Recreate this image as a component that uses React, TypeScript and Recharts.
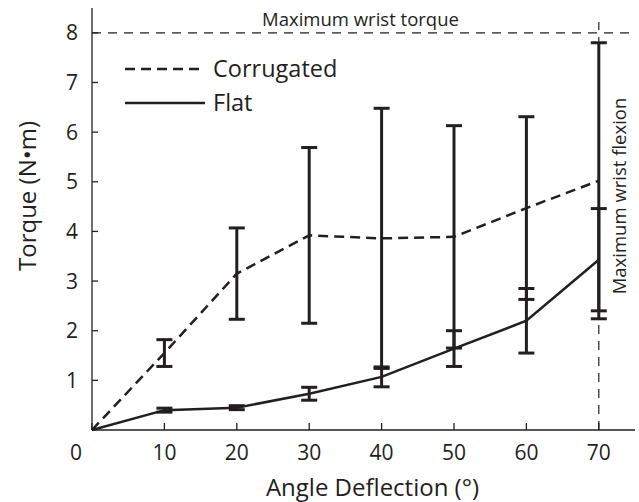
import React from 'react';
import {
  ComposedChart,
  Line,
  XAxis,
  YAxis,
  ErrorBar,
  ReferenceLine,
  Legend,
} from 'recharts';

const angles = [0, 10, 20, 30, 40, 50, 60, 70];
const corrugated = [0, 1.55, 3.15, 3.92, 3.86, 3.89, 4.47, 5.02];
const corrugatedErr = [0, 0.27, 0.92, 1.77, 2.62, 2.24, 1.84, 2.78];
const flat = [0, 0.4, 0.45, 0.73, 1.07, 1.64, 2.2, 3.43];
const flatErr = [0, 0.04, 0.04, 0.13, 0.2, 0.36, 0.65, 1.03];
const xTicks = [0, 10, 20, 30, 40, 50, 60, 70];
const yTicks = [1, 2, 3, 4, 5, 6, 7, 8];

const data = angles.map((a, i) => ({
  angle: a,
  corrugated: corrugated[i],
  corrugatedErr: corrugatedErr[i],
  flat: flat[i],
  flatErr: flatErr[i],
}));

const ink = '#231f20';
const font = '"Open Sans", sans-serif';

// x tick: the "0" label sits left of the origin in the original
const XTick = (props: any) => {
  const { x, y, payload } = props;
  const dx = payload.value === 0 ? -16 : 0;
  return (
    <text x={x + dx} y={y} dy={21} textAnchor="middle" fill={ink} fontSize={21} fontFamily={font}>
      {payload.value}
    </text>
  );
};

// legend drawn as svg so line/text positions are exact
const LegendBox = () => (
  <svg width={240} height={70} style={{ display: 'block' }}>
    <line x1={0} y1={22} x2={80} y2={22} stroke={ink} strokeWidth={2.5} strokeDasharray="10 6" />
    <text x={88} y={22} dy={8} fill={ink} fontSize={23.5} fontFamily={font}>Corrugated</text>
    <line x1={0} y1={56} x2={80} y2={56} stroke={ink} strokeWidth={2.5} />
    <text x={88} y={56} dy={8} fill={ink} fontSize={23.5} fontFamily={font}>Flat</text>
  </svg>
);

const FlexionLabel = (props: any) => {
  const x = props.viewBox ? props.viewBox.x : 0;
  return (
    <text
      x={x + 20}
      y={196}
      transform={`rotate(-90, ${x + 20}, 196)`}
      textAnchor="middle"
      dominantBaseline="central"
      fill={ink}
      fontSize={18.5}
      fontFamily={font}
    >
      Maximum wrist flexion
    </text>
  );
};

const TorqueLabel = () => (
  <text
    x={26}
    y={196}
    transform="rotate(-90, 26, 196)"
    textAnchor="middle"
    dominantBaseline="central"
    fill={ink}
    fontSize={24}
    fontFamily={font}
  >
    Torque (N•m)
  </text>
);

export default function App() {
  return (
    <div style={{ position: 'fixed', left: 0, top: 0, width: 639, height: 502, background: '#fff' }}>
      <ComposedChart
        width={639}
        height={502}
        data={data}
        margin={{ top: 8, right: 4, bottom: 0, left: 0 }}
      >
        <XAxis
          dataKey="angle"
          type="number"
          domain={[0, 75]}
          ticks={xTicks}
          tick={<XTick />}
          tickSize={-7}
          tickMargin={16}
          height={72}
          stroke={ink}
          strokeWidth={1.3}
          label={{
            value: 'Angle Deflection (°)',
            position: 'insideBottom',
            offset: 6,
            dx: 9,
            fill: ink,
            fontSize: 24,
            fontFamily: font,
          }}
        />
        <YAxis
          type="number"
          domain={[0, 8.5]}
          ticks={yTicks}
          width={92}
          tickSize={-6}
          tickMargin={20}
          stroke={ink}
          strokeWidth={1.3}
          tick={{ fill: ink, fontSize: 21, fontFamily: font }}
          label={<TorqueLabel />}
        />
        <ReferenceLine
          y={8}
          stroke={ink}
          strokeWidth={1.2}
          strokeDasharray="9 7"
          label={{
            value: 'Maximum wrist torque',
            position: 'top',
            offset: 7,
            dx: -3,
            fill: ink,
            fontSize: 18.5,
            fontFamily: font,
          }}
        />
        <ReferenceLine
          segment={[{ x: 70, y: 0 }, { x: 70, y: 8.22 }]}
          stroke={ink}
          strokeWidth={1.2}
          strokeDasharray="9 7"
          label={<FlexionLabel />}
        />
        <Legend
          layout="vertical"
          verticalAlign="middle"
          align="center"
          content={<LegendBox />}
          wrapperStyle={{ position: 'absolute', left: 125, top: 47, width: 240, height: 70 }}
        />
        <Line
          dataKey="corrugated"
          stroke={ink}
          strokeWidth={2.5}
          strokeDasharray="10 6"
          dot={false}
          activeDot={false}
          isAnimationActive={false}
        >
          <ErrorBar dataKey="corrugatedErr" width={8} strokeWidth={3} stroke={ink} direction="y" />
        </Line>
        <Line
          dataKey="flat"
          stroke={ink}
          strokeWidth={2.5}
          dot={false}
          activeDot={false}
          isAnimationActive={false}
        >
          <ErrorBar dataKey="flatErr" width={8} strokeWidth={3} stroke={ink} direction="y" />
        </Line>
      </ComposedChart>
    </div>
  );
}
